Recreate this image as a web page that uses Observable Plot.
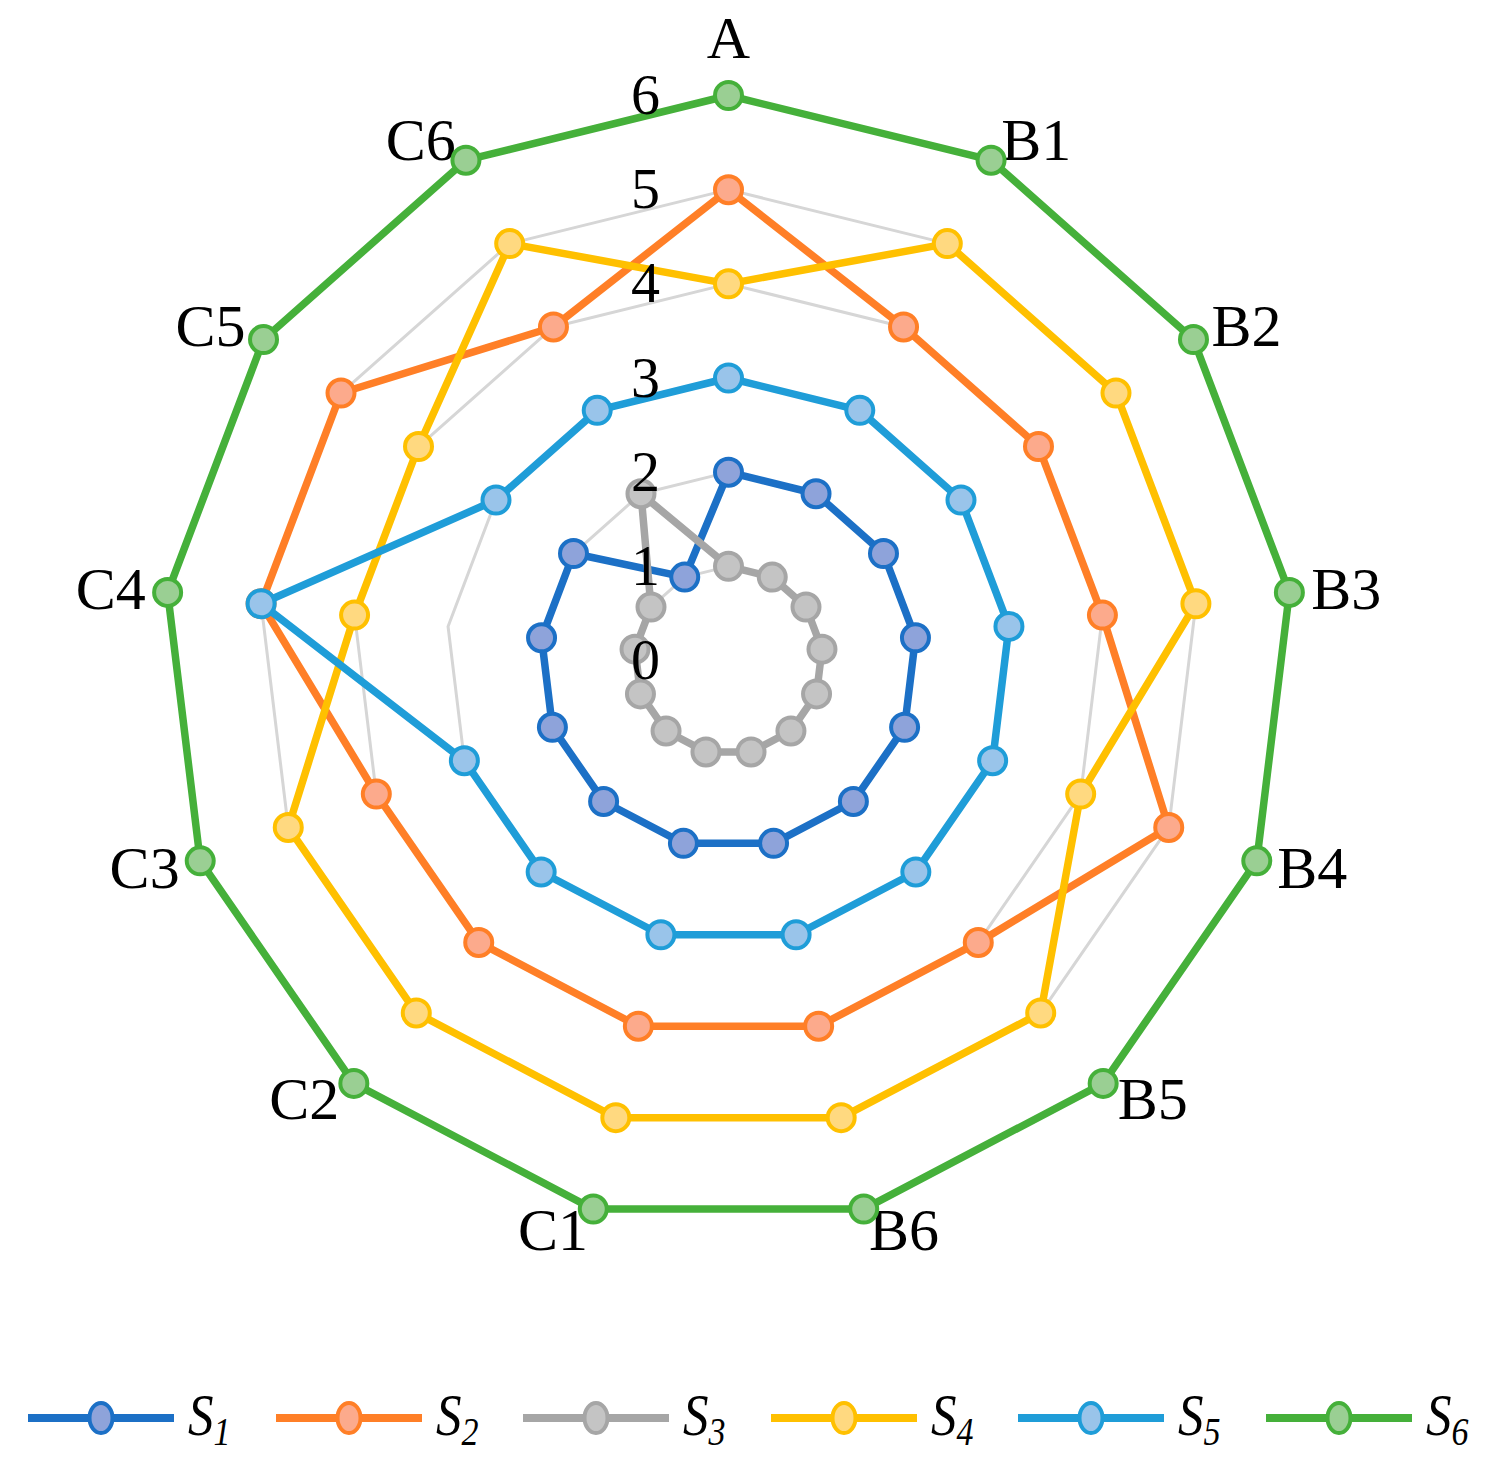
<!DOCTYPE html>
<html>
<head>
<meta charset="utf-8">
<script src="https://cdn.jsdelivr.net/npm/d3@7"></script>
<script src="https://cdn.jsdelivr.net/npm/@observablehq/plot@0.6"></script>
<style>
  html, body { margin: 0; padding: 0; background: #fff; }
  #chart svg { display: block; }
  #legend { display: flex; align-items: center; height: 96px; padding-left: 26px; box-sizing: border-box; }
  .item { display: flex; align-items: center; width: 247.5px; flex: none; }
  .item svg { display: block; }
  .lab { font-family: "Liberation Serif", serif; font-style: italic; font-size: 60px; margin-left: 12px; line-height: 1; display: inline-block; transform: scaleX(0.85); transform-origin: left center; }
  .lab sub { font-size: 40px; vertical-align: -10px; }
</style>
</head>
<body>
<div id="chart"></div>
<div id="legend"></div>
<script>
const categories = ["A","B1","B2","B3","B4","B5","B6","C1","C2","C3","C4","C5","C6"];
const seriesNames = ["S1","S2","S3","S4","S5","S6"];
const S1 = [2,2,2,2,2,2,2,2,2,2,2,2,1];
const S2 = [5,4,4,4,5,4,4,4,4,4,5,5,4];
const S3 = [1,1,1,1,1,1,1,1,1,1,1,1,2];
const S4 = [4,5,5,5,4,5,5,5,5,5,4,4,5];
const S5 = [3,3,3,3,3,3,3,3,3,3,5,3,3];
const S6 = [6,6,6,6,6,6,6,6,6,6,6,6,6];
const lineColors = ["#1C70C6","#FF7F27","#A6A6A6","#FFC000","#1F9DD8","#45B03A"];
const fillColors = ["#8EA3DA","#FCAA8C","#C4C4C4","#FFD980","#99C4EA","#9ACF93"];
const tickValues = [0,1,2,3,4,5,6];
const gridLevels = [1,2,3,4,5,6];

const seriesValues = [S1,S2,S3,S4,S5,S6];
const W = 1491, H = 1370, cx = 728, cy = 660;
const maxV = 6, outerR = 565;
const u = outerR / maxV;
const n = categories.length;
const ang = i => i * 2 * Math.PI / n;

const seriesData = seriesValues.map((vals, s) =>
  vals.map((v, i) => ({series: seriesNames[s], cat: categories[i], v, x: v * Math.sin(ang(i)), y: v * Math.cos(ang(i))}))
);
const gridData = gridLevels.flatMap(L => categories.map((c, i) => ({level: L, x: L * Math.sin(ang(i)), y: L * Math.cos(ang(i))})));

const labelData = categories.map((c, i) => {
  const s = Math.sin(ang(i)), co = Math.cos(ang(i));
  if (Math.abs(s) < 0.1) {
    const r = maxV + 0.6;
    return {text: c, x: r * s, y: r * co, anchor: "middle"};
  }
  const r = maxV + 22 / u;
  return {text: c, x: r * s, y: r * co, anchor: s > 0 ? "start" : "end"};
});

const font = "Liberation Serif, Times New Roman, serif";
const marks = [];
marks.push(Plot.line(gridData, {x: "x", y: "y", z: "level", curve: "linear-closed", stroke: "#D6D6D6", strokeWidth: 3}));
for (const anchor of ["start","end","middle"]) {
  marks.push(Plot.text(labelData.filter(d => d.anchor === anchor), {x: "x", y: "y", text: "text", textAnchor: anchor, lineAnchor: "middle", fontSize: 60, fontFamily: font, fill: "#000"}));
}
seriesData.forEach((data, s) => {
  marks.push(Plot.line(data, {x: "x", y: "y", curve: "linear-closed", stroke: lineColors[s], strokeWidth: 7.5, strokeLinejoin: "round"}));
  marks.push(Plot.dot(data, {x: "x", y: "y", r: 13.5, fill: fillColors[s], stroke: lineColors[s], strokeWidth: 4}));
});
marks.push(Plot.text(tickValues, {x: () => 0, y: d => d, text: d => String(d), dx: -83, lineAnchor: "middle", fontSize: 58, fontFamily: font, fill: "#000"}));

const chart = Plot.plot({
  width: W, height: H,
  marginTop: 0, marginRight: 0, marginBottom: 0, marginLeft: 0,
  x: {type: "linear", domain: [-cx / u, (W - cx) / u], range: [0, W], axis: null},
  y: {type: "linear", domain: [cy / u, (cy - H) / u], range: [0, H], axis: null},
  style: {background: "#fff"},
  marks
});
document.getElementById("chart").appendChild(chart);

const legend = document.getElementById("legend");
seriesNames.forEach((name, s) => {
  const item = document.createElement("div");
  item.className = "item";
  item.innerHTML = `<svg width="150" height="40"><line x1="2" x2="148" y1="20" y2="20" stroke="${lineColors[s]}" stroke-width="8"/><ellipse cx="75" cy="20" rx="11.5" ry="15" fill="${fillColors[s]}" stroke="${lineColors[s]}" stroke-width="4"/></svg><span class="lab">S<sub>${name.slice(1)}</sub></span>`;
  legend.appendChild(item);
});
</script>
</body>
</html>
